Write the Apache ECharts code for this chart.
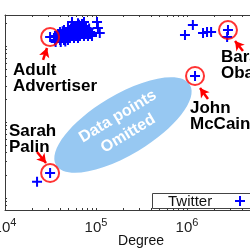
<!DOCTYPE html>
<html><head><meta charset="utf-8">
<script src="https://cdn.jsdelivr.net/npm/echarts@6/dist/echarts.min.js"></script>
<style>html,body{margin:0;padding:0;background:#fff}#c{width:250px;height:250px}</style>
</head><body><div id="c"></div>
<script>
// ---- data ----
const seriesName = 'Twitter';
const xAxisName = 'Degree';
const xMin = 1e4, xMax = 1e7;
const yMin = 6.95, yMax = 2560;
const xMajorTicks = [1e4, 1e5, 1e6, 1e7];
const xMinorTicks = [2e4,3e4,4e4,5e4,6e4,7e4,8e4,9e4,2e5,3e5,4e5,5e5,6e5,7e5,8e5,9e5,2e6,3e6,4e6,5e6,6e6,7e6,8e6,9e6];
const yTicks = [7,8,9,10,20,30,40,50,60,70,80,90,100,200,300,400,500,600,700,800,900,1000,2000];
// Twitter accounts: [degree, y value]
const twitterPoints = [
  [35400,1355],[35400,1200],[38200,1439],[38200,1274],[40200,1528],[40200,1355],[40200,1200],
  [42300,1439],[42300,1274],[44500,1625],[44500,1355],[44500,1200],[46800,1528],[46800,1439],
  [46800,1274],[49200,1726],[49200,1355],[49200,1200],[51800,1625],[51800,1439],[51800,1274],
  [54500,1832],[54500,1528],[54500,1355],[57300,1726],[57300,1439],[57300,1274],[60300,1625],
  [60300,1528],[60300,1355],[63400,1832],[63400,1439],[63400,1274],[66700,1726],[66700,1528],
  [66700,1355],[70200,1945],[70200,1625],[70200,1439],[73800,1832],[73800,1528],[73800,1355],
  [77600,1726],[77600,1439],[81700,1625],[81700,1355],[85900,1528],[85900,1439],[90400,1439],
  [90400,1355],[37000,1310],[43000,1560],[48000,1290],[53000,1700],[59000,1480],[65000,1900],
  [72000,1500],[79000,1580],[84000,1700],[88000,1500],[54500,2070],[63400,2000],[73800,2070],
  [36000,1130],[41000,1130],[46000,1150],
  [102600,2070],[105000,1726],[110000,1483],
  [950000,1396],[1160000,1888],[1500000,1483],[1660000,1528],[1840000,1528],
  [2820000,1623],[2760000,1312],
  [31300,1312],[31300,21.3],[22500,16.3],[1225000,403]
];
const highlightNames = ['Adult\nAdvertiser','Sarah\nPalin','John\nMcCain','Barack\nObama'];
const highlightPoints = [[31300,1312],[31300,21.3],[1225000,403],[2820000,1623]];
// arrows: [tail, head]
const arrowLines = [
  [[26200,655],[28950,942]],
  [[22500,40.3],[28250,28.9]],
  [[1700000,201],[1390000,280]],
  [[4120000,859],[3370000,1164]]
];
const omittedText = 'Data points\nOmitted';

const FONT = '"Liberation Sans", Arial, Helvetica, sans-serif';
const plusPath = 'path://M5 0 L5 10 M0 5 L10 5';
const axisCol = '#3a3a3a';
const blue = '#0000ff';

const chart = echarts.init(document.getElementById('c'), null, {renderer:'canvas'});

function xAxisCfg(pos, labels){
  return {
    type:'log', logBase:10, min:xMin, max:xMax, position:pos,
    axisLine:{show:true, onZero:false, lineStyle:{color:axisCol, width:1}},
    axisTick:{show:true, inside:true, length:2, customValues: xMajorTicks.concat(xMinorTicks), lineStyle:{color:axisCol}},
    minorTick:{show:false}, splitLine:{show:false},
    axisLabel: labels ? {
      show:true, customValues:xMajorTicks, margin:7, fontFamily:FONT, hideOverlap:false,
      formatter: v => '{b|10}{s|' + Math.round(Math.log10(v)) + '}',
      rich:{ b:{fontSize:15, fontFamily:FONT, color:'#222', verticalAlign:'bottom', lineHeight:18},
             s:{fontSize:11, fontFamily:FONT, color:'#222', verticalAlign:'top', lineHeight:18, padding:[0,0,6,0]} }
    } : {show:false}
  };
}

const option = {
  animation:false,
  backgroundColor:'#fff',
  grid:{left:5, top:15, bottom:40, right:-28, containLabel:false, outerBoundsMode:'none'},
  xAxis:[ xAxisCfg('bottom', true), xAxisCfg('top', false) ],
  yAxis:[{
    type:'log', logBase:10, min:yMin, max:yMax,
    axisLine:{show:true, onZero:false, lineStyle:{color:axisCol, width:1}},
    axisTick:{show:true, inside:true, length:2, customValues:yTicks, lineStyle:{color:axisCol}},
    axisLabel:{show:false}, splitLine:{show:false}
  }],
  series:[
    {
      name:seriesName, type:'scatter', data:twitterPoints, symbol:plusPath, symbolSize:10,
      itemStyle:{color:'rgba(0,0,0,0)', borderColor:blue, borderWidth:2, opacity:1},
      z:3
    },
    {
      name:'highlight', type:'scatter', data:highlightPoints, symbol:'circle', symbolSize:18,
      itemStyle:{color:'rgba(0,0,0,0)', borderColor:'#ff0000', borderWidth:2},
      z:4, silent:true,
      markLine:{
        silent:true, symbol:['none','arrow'], symbolSize:[8,9],
        lineStyle:{color:'#ff0000', width:2.5, type:'solid'},
        label:{show:false},
        data: arrowLines.map(a => [{coord:a[0]},{coord:a[1]}])
      }
    }
  ],
  graphic:[
    {type:'ellipse', x:123, y:125, rotation:31*Math.PI/180, z:1,
     shape:{cx:0, cy:0, rx:78, ry:30}, style:{fill:'#97c8f2'}},
    {type:'text', x:123, y:125, rotation:31*Math.PI/180, z:2,
     style:{text:omittedText, fill:'#fff', font:'bold 16px ' + FONT, align:'center', verticalAlign:'middle', lineHeight:20}},
    {type:'text', left:13, top:62, z:5,
     style:{text:highlightNames[0], fill:'#000', font:'bold 17px ' + FONT, lineHeight:16}},
    {type:'text', left:9, top:123, z:5,
     style:{text:highlightNames[1], fill:'#000', font:'bold 17px ' + FONT, lineHeight:16}},
    {type:'text', left:190, top:100, z:5,
     style:{text:highlightNames[2], fill:'#000', font:'bold 17px ' + FONT, lineHeight:16}},
    {type:'text', left:221, top:49, z:5,
     style:{text:highlightNames[3], fill:'#000', font:'bold 17px ' + FONT, lineHeight:16}},
    {type:'text', x:141, y:241, z:5,
     style:{text:xAxisName, fill:'#111', font:'14px ' + FONT, align:'center', verticalAlign:'middle'}},
    // legend box
    {type:'group', x:152, y:193, z:10, children:[
      {type:'rect', shape:{x:0.5, y:0.5, width:120, height:15}, style:{fill:'#fff', stroke:'#444', lineWidth:1}},
      {type:'text', x:16, y:8.5, style:{text:seriesName, fill:'#111', font:'15px ' + FONT, verticalAlign:'middle'}},
      {type:'line', shape:{x1:83, y1:8, x2:93, y2:8}, style:{stroke:blue, lineWidth:2}},
      {type:'line', shape:{x1:88, y1:3, x2:88, y2:13}, style:{stroke:blue, lineWidth:2}}
    ]}
  ]
};
chart.setOption(option);
</script></body></html>
